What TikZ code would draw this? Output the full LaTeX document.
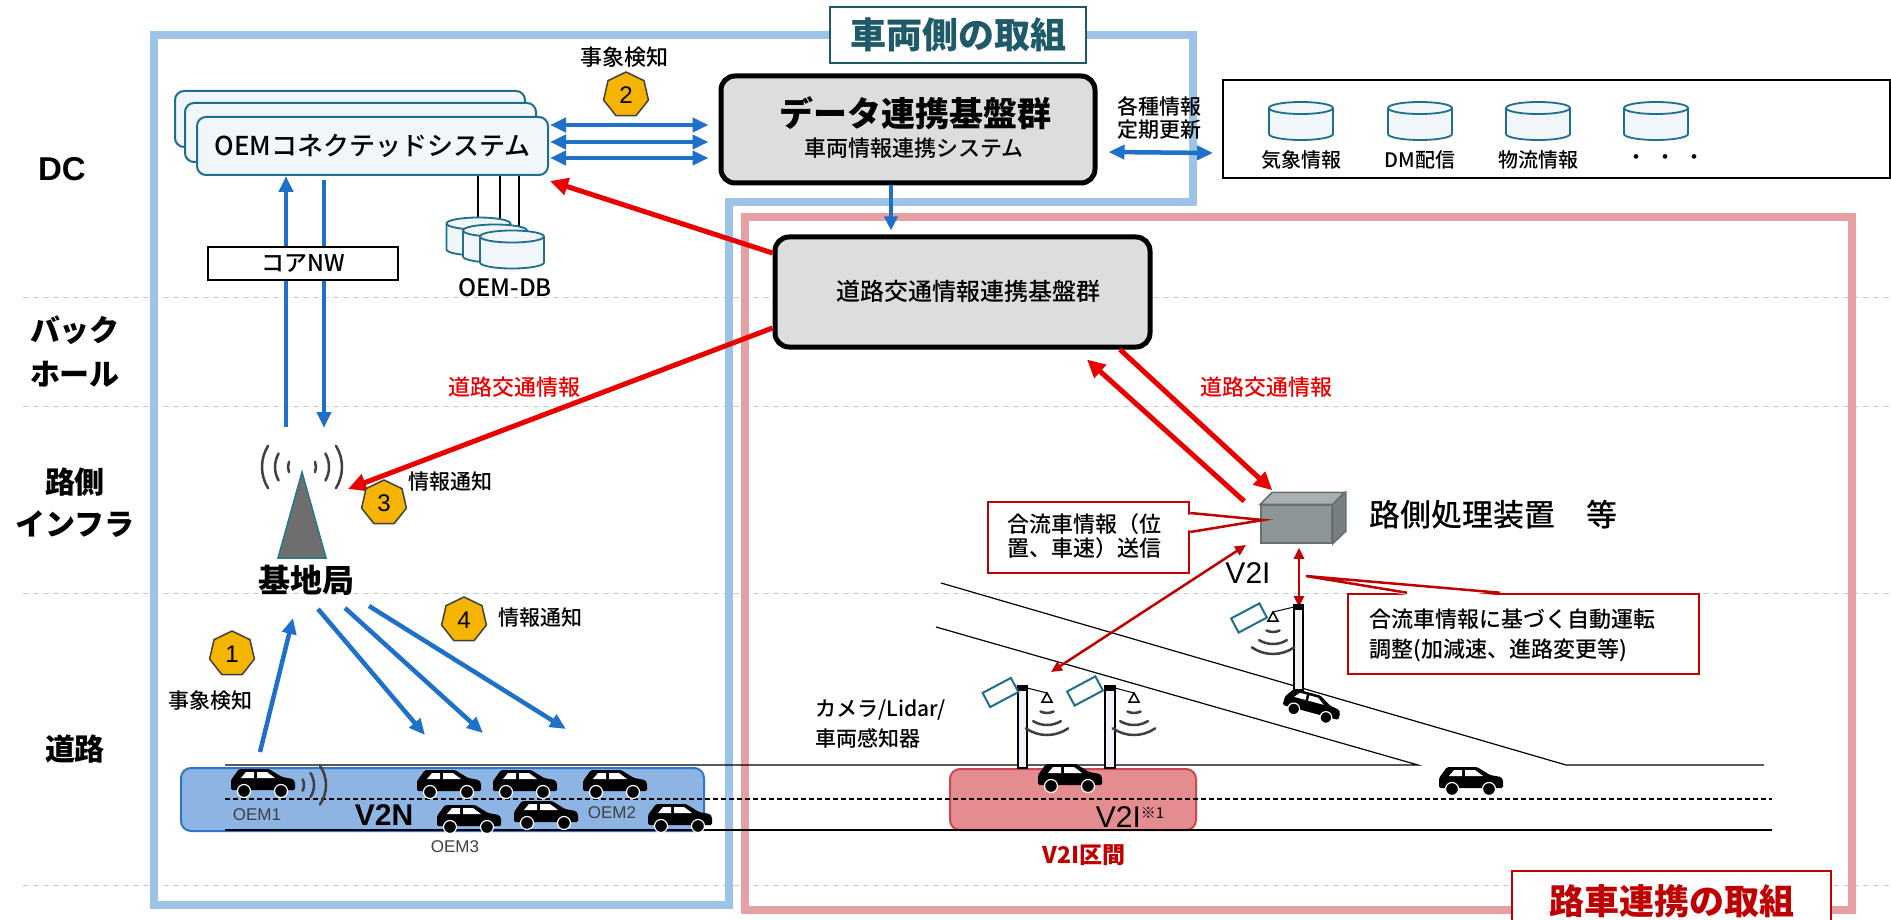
\documentclass[tikz,border=0pt]{standalone}
\usepackage{fontspec}
\setmainfont{Liberation Sans}
\newfontfamily\jp{Noto Sans CJK JP}
\newfontfamily\jpm{Noto Sans CJK JP Medium}
\usetikzlibrary{shapes.geometric,arrows.meta,calc}

\definecolor{frameblue}{RGB}{157,195,230}
\definecolor{framered}{RGB}{230,160,164}
\definecolor{arrowblue}{RGB}{30,112,200}
\definecolor{tealc}{RGB}{31,110,140}
\definecolor{tealfill}{RGB}{240,246,250}
\definecolor{titleteal}{RGB}{31,90,105}
\definecolor{boxgray}{RGB}{220,221,222}
\definecolor{darkred}{RGB}{192,0,0}
\definecolor{brightred}{RGB}{235,0,0}
\definecolor{badgefill}{RGB}{245,180,0}
\definecolor{v2nfill}{RGB}{141,180,226}
\definecolor{v2nline}{RGB}{46,117,200}
\definecolor{v2ifill}{RGB}{229,140,144}
\definecolor{v2iline}{RGB}{205,70,80}
\definecolor{sepgray}{RGB}{200,206,212}
\definecolor{wavegray}{RGB}{64,64,64}
\definecolor{bsgray}{RGB}{110,110,110}
\definecolor{bsteal}{RGB}{40,120,140}
\definecolor{rsufront}{RGB}{142,149,150}
\definecolor{rsutop}{RGB}{170,176,177}
\definecolor{rsuside}{RGB}{120,127,128}
\definecolor{rsuedge}{RGB}{105,112,113}
\definecolor{polefill}{RGB}{240,244,248}

\tikzset{
  jpf/.style={font=\jpm\fontsize{#1}{#1}\selectfont},
  jpb/.style={font=\jp\bfseries\fontsize{#1}{#1}\selectfont},
  sepline/.style={draw=sepgray, line width=1, dash pattern=on 6pt off 4pt},
  barrow/.style={draw=arrowblue, line width=4.5, -{Triangle[length=16pt,width=14pt]}},
  bdarrow/.style={draw=arrowblue, line width=4.5, {Triangle[length=16pt,width=14pt]}-{Triangle[length=16pt,width=14pt]}},
  rarrow/.style={draw=brightred, line width=5, -{Triangle[length=18pt,width=17pt]}},
  drarrow/.style={draw=darkred, line width=2.5, {Triangle[length=11pt,width=10pt]}-{Triangle[length=11pt,width=10pt]}},
  graybox/.style={draw=black, line width=5, rounded corners=14, fill=boxgray},
  oembox/.style={draw=tealc, line width=2, fill=tealfill, rounded corners=9},
  badge/.style={regular polygon, regular polygon sides=7, fill=badgefill, draw=black!75,
    line width=1.5, minimum size=46, inner sep=0, font=\fontsize{24}{24}\selectfont},
  calloutbox/.style={draw=darkred, line width=2.5, fill=white, inner sep=0},
  redlabel/.style={text=brightred, jpf=22},
  oemlabel/.style={text=black!75, font=\fontsize{17}{17}\selectfont},
  roadline/.style={draw=black, line width=1.2},
  camera/.style={draw=tealc, line width=2},
  wave/.style={draw=wavegray, line width=2.5, line cap=round},
  car/.pic={
    \fill[black, rounded corners=1.5] (0,23) -- (0,13) -- (8,2) -- (38,2) -- (51,10)
      -- (62,12) -- (64,15) -- (64,23) -- cycle;
    \fill[white] (10,11) -- (15,5) -- (23,5) -- (23,11) -- cycle;
    \fill[white] (26,11) -- (26,5) -- (36,5) -- (44,11) -- cycle;
    \filldraw[fill=black, draw=white, line width=1.2]
      (13,24) circle[radius=6.5] (50,24) circle[radius=6.5];
  },
  db/.pic={
    \filldraw[draw=tealc, fill=tealfill, line width=1.8]
      (-32,-13) -- (-32,13) arc[start angle=180, end angle=0, x radius=32, y radius=6]
      -- (32,-13) arc[start angle=0, end angle=-180, x radius=32, y radius=6] -- cycle;
    \draw[tealc, line width=1.8] (-32,-13) arc[start angle=180, end angle=0, x radius=32, y radius=6];
  },
  ant/.pic={
    \filldraw[draw=black, fill=white, line width=1.5] (0,0) -- (-5,9) -- (5,9) -- cycle;
    \draw[wave] (0,5) ++(64:15) arc[start angle=64, end angle=116, radius=15];
    \draw[wave] (0,5) ++(59:27) arc[start angle=59, end angle=121, radius=27];
    \draw[wave] (0,5) ++(55:37) arc[start angle=55, end angle=125, radius=37];
  },
}

\begin{document}
\begin{tikzpicture}[x=1pt,y=-1pt]
\useasboundingbox (0,0) rectangle (1891,920);
\fill[white] (0,0) rectangle (1891,920);

% layer separators
\foreach \yy in {297,406,593,885} { \draw[sepline] (23,\yy) -- (1891,\yy); }

% the two responsibility frames
\draw[frameblue, line width=8] (154,35) -- (1193,35) -- (1193,202) -- (729,202) -- (729,905) -- (154,905) -- cycle;
\draw[framered, line width=8] (745,217) rectangle (1852,910);

\node[draw=titleteal, line width=2.2, fill=white, minimum width=256, minimum height=56, inner sep=0,
  text=titleteal, jpb=36] (tveh) at (958,35) {車両側の取組};
\node[draw=darkred, line width=2.2, fill=white, minimum width=319, minimum height=60, inner sep=0,
  text=darkred, jpb=35, anchor=north] (troad) at (1671.5,870) {路車連携の取組};

% layer labels
\node[font=\bfseries\fontsize{33}{33}\selectfont] (ldc) at (62,169) {DC};
\node[font=\jp\bfseries\fontsize{30}{44}\selectfont, align=center] (lbh) at (75,352) {バック\\ホール};
\node[font=\jp\bfseries\fontsize{30}{42}\selectfont, align=center] (lri) at (75,503) {路側\\インフラ};
\node[jpb=30] (lrd) at (75,749) {道路};

% OEM connected systems
\draw[oembox] (175,91) rectangle (525,147);
\draw[oembox] (185,103) rectangle (536,162);
\node[oembox, minimum width=351, minimum height=58, jpf=26] (oem) at (372.5,146) {OEMコネクテッドシステム};

% data platform
\node[graybox, minimum width=374, minimum height=107] (data) at (908,129.5) {};
\node[jpb=34] (datat1) at (915,113) {データ連携基盤群};
\node[jpf=22] (datat2) at (914,148) {車両情報連携システム};

% road traffic platform
\node[graybox, minimum width=375, minimum height=110] (road) at (962.5,292) {};
\node[jpf=24] (roadt) at (968,291) {道路交通情報連携基盤群};

% external information
\node[draw=black, line width=2, minimum width=667, minimum height=98, anchor=north west] (info) at (1222,79) {};
\pic at (1301,121) {db};
\pic at (1420,121) {db};
\pic at (1538,121) {db};
\pic at (1656,121) {db};
\node[jpf=20] (iw) at (1301,160) {気象情報};
\node[jpf=20] (idm) at (1420,160) {DM配信};
\node[jpf=20] (ilog) at (1538,160) {物流情報};
\node[jpf=20] (idots) at (1665,160) {・\hspace{9pt}・\hspace{9pt}・};
\node[font=\jpm\fontsize{21}{23}\selectfont, align=center] (upd) at (1159,118) {各種情報\\定期更新};
\draw[bdarrow] ([xshift=11pt,yshift=-22.5pt]data.east) -- ([xshift=-9pt,yshift=-24pt]info.west);

% OEM <-> data platform
\draw[bdarrow] ([xshift=1pt,yshift=21pt]oem.east) -- ([xshift=-10pt,yshift=4.5pt]data.west);
\draw[bdarrow] ([xshift=1pt,yshift=4pt]oem.east) -- ([xshift=-10pt,yshift=-12.5pt]data.west);
\draw[bdarrow] ([xshift=1pt,yshift=-12pt]oem.east) -- ([xshift=-10pt,yshift=-28.5pt]data.west);
\node[jpf=22] (ev2) at (624,57) {事象検知};
\node[badge] (b2) at (626,95) {2};

% data platform -> road platform
\draw[draw=arrowblue, line width=4, -{Triangle[length=14pt,width=13pt]}, shorten >=4pt]
  ([xshift=-17pt]data.south) -- ([xshift=-17pt]data.south |- road.north);

% OEM databases
\coordinate (db1) at (478.5,236.5);
\coordinate (db2) at (495,243.5);
\coordinate (db3) at (512,249.5);
\coordinate (db1top) at (478,220);
\coordinate (db2top) at (500,226);
\coordinate (db3top) at (519,232);
\draw[line width=2] ([xshift=105.5pt]oem.south) -- (db1top);
\draw[line width=2] ([xshift=127.5pt]oem.south) -- (db2top);
\draw[line width=2] ([xshift=146.5pt]oem.south) -- (db3top);
\pic at (db1) {db};
\pic at (db2) {db};
\pic at (db3) {db};
\node[jpf=24] (oemdb) at (505,288) {OEM-DB};

% base station and core network
\coordinate (bsup) at (286,427);
\coordinate (bsdn) at (324,428);
\draw[barrow] (bsup) -- (bsup |- oem.south);
\draw[barrow, shorten <=4pt] (bsdn |- oem.south) -- (bsdn);
\node[draw=black, line width=2, fill=white, minimum width=190, minimum height=33, jpf=23] (core) at (303,263.5) {コアNW};

\draw[fill=bsgray, draw=bsteal, line width=1.5] (302,472) -- (326,558) -- (278,558) -- cycle;
\foreach \r/\a in {14/22, 27/30, 40/32} {
  \draw[wave] (302,467) ++(-\a:\r) arc[start angle=-\a, end angle=\a, radius=\r];
  \draw[wave] (302,467) ++(180-\a:\r) arc[start angle=180-\a, end angle=180+\a, radius=\r];
}
\node[jpb=32] (bsl) at (306,580) {基地局};

% road platform -> OEM and base station
\coordinate (bsr) at (348,489);
\draw[rarrow] ([yshift=39pt]road.west) -- ([xshift=1pt,yshift=-5pt]oem.south east);
\draw[rarrow] ([yshift=-36pt]road.west) -- (bsr);
\node[redlabel] (rl1) at (514,387) {道路交通情報};
\node[badge] (b3) at (384,503) {3};
\node[jpf=21] (n3) at (450,482) {情報通知};

% V2N band and road
\draw[fill=v2nfill, draw=v2nline, line width=2, rounded corners=10] (181,768) rectangle (704,831);
\draw[fill=v2ifill, draw=v2iline, line width=2, rounded corners=10] (950,769) rectangle (1196,830);
\draw[roadline] (941,583) -- (1566,765) -- (1764,765);
\draw[roadline] (936,627) -- (1418,765) -- (225,765);
\draw[roadline, dash pattern=on 5pt off 3pt] (225,799) -- (1772,799);
\draw[roadline] (225,830) -- (1772,830);

% vehicles in the V2N section
\pic at (231,767) {car};
\pic at (417,768) {car};
\pic at (493,768) {car};
\pic at (583,768) {car};
\pic at (437,803) {car};
\pic at (514,799) {car};
\pic at (648,802) {car};
\foreach \r/\a in {12/28, 22/33, 34/35} {
  \draw[wave] (292,785) ++(-\a:\r) arc[start angle=-\a, end angle=\a, radius=\r];
}
\node[oemlabel] (o1) at (257,815) {OEM1};
\node[oemlabel] (o2) at (612,813) {OEM2};
\node[oemlabel] (o3) at (455,847) {OEM3};
\node[font=\bfseries\fontsize{30}{30}\selectfont] (v2n) at (384,815) {V2N};

% uplink and downlinks of the base station
\coordinate (car1top) at (260,752);
\coordinate (bsfoot) at (293,618);
\draw[barrow] (car1top) -- (bsfoot);
\node[badge] (b1) at (232,654) {1};
\node[jpf=21] (ev1) at (210,701) {事象検知};
\coordinate (bso1) at (318,609);
\coordinate (bso2) at (345,608);
\coordinate (bso3) at (369,606);
\coordinate (v2na) at (425,735);
\coordinate (v2nb) at (483,733);
\coordinate (v2nc) at (566,729);
\draw[barrow] (bso1) -- (v2na);
\draw[barrow] (bso2) -- (v2nb);
\draw[barrow] (bso3) -- (v2nc);
\node[badge] (b4) at (464,620) {4};
\node[jpf=21] (n4) at (540,618) {情報通知};

% roadside unit
\node[draw=rsuedge, fill=rsufront, line width=1.5, minimum width=71, minimum height=38, inner sep=0] (rsu) at (1296.5,524) {};
\filldraw[draw=rsuedge, fill=rsutop, line width=1.5] (rsu.north west) -- ++(12,-12) -- ++(72,0) -- (rsu.north east) -- cycle;
\filldraw[draw=rsuedge, fill=rsuside, line width=1.5] (rsu.north east) -- ++(13,-12) -- ++(0,39) -- (rsu.south east) -- cycle;
\node[jpf=31, anchor=west] (rsul) at (1366,515) {路側処理装置　等};

% road platform <-> roadside unit
\draw[rarrow] ([xshift=157.5pt]road.south) -- ([xshift=12pt,yshift=14pt]rsu.north west);
\draw[rarrow] ([xshift=-16pt,yshift=3pt]rsu.north west) -- ([xshift=124.5pt,yshift=-10pt]road.south);
\node[redlabel] (rl2) at (1266,387) {道路交通情報};

% callouts
\node[calloutbox, minimum width=201, minimum height=71] (c1) at (1088.5,537.5) {};
\coordinate (c1tip) at ([xshift=3pt,yshift=4pt]rsu.west);
\fill[white] ([xshift=-2.5pt,yshift=23pt]c1.east) -- (c1tip) -- ([xshift=-2.5pt,yshift=7pt]c1.east) -- cycle;
\draw[darkred, line width=2.5] ([yshift=24.5pt]c1.east) -- (c1tip) -- ([yshift=5.5pt]c1.east);
\node[font=\jpm\fontsize{22}{24}\selectfont, align=left, anchor=west] (c1t) at (1004,536) {合流車情報（位\\置、車速）送信};

\node[calloutbox, minimum width=351, minimum height=80] (c2) at (1523.5,634) {};
\coordinate (c2tip) at (1306,576);
\fill[white] ([xshift=-115pt,yshift=-2.5pt]c2.north) -- (c2tip) -- ([xshift=-25pt,yshift=-2.5pt]c2.north) -- cycle;
\draw[darkred, line width=2.5] ([xshift=-116.5pt]c2.north) -- (c2tip) -- ([xshift=-23.5pt]c2.north);
\node[font=\jpm\fontsize{22}{30}\selectfont, align=left, anchor=west] (c2t) at (1366,635) {合流車情報に基づく自動運転\\調整(加減速、進路変更等)};

% V2I links
\node[font=\fontsize{30}{30}\selectfont] (v2il) at (1248,573) {V2I};
\coordinate (v2ia) at (1246,545);
\coordinate (v2ib) at (1051,672);
\draw[drarrow] (v2ia) -- (v2ib);
\coordinate (pole3top) at (1299,607);
\draw[drarrow] ([xshift=2.5pt,yshift=-4pt]rsu.south) -- (pole3top);

% poles with cameras and antennas
\filldraw[fill=polefill, draw=black, line width=1.5] (1018,688) rectangle (1027,768);
\filldraw[fill=polefill, draw=black, line width=1.5] (1105,688) rectangle (1115,768);
\filldraw[fill=polefill, draw=black, line width=1.5] (1294,607) rectangle (1303,690);
\fill (1017,685) rectangle (1028,691);
\fill (1104,685) rectangle (1116,691);
\fill (1293,604) rectangle (1304,610);
\draw[camera, rotate around={28:(1000.5,692.5)}] (984.5,684.5) rectangle (1016.5,700.5);
\draw[camera, rotate around={28:(1085,691)}] (1069,683) rectangle (1101,699);
\draw[camera, rotate around={28:(1249,618)}] (1233,610) rectangle (1265,626);
\draw[line width=1] (1027,688) -- (1047,693);
\draw[line width=1] (1115,688) -- (1134,693);
\draw[line width=1] (1294,607) -- (1273,612);
\pic at (1047,693) {ant};
\pic at (1134,693) {ant};
\pic at (1273,612) {ant};

% vehicles in the V2I section and on the ramp
\pic at (1038,762) {car};
\pic at (1439,765) {car};
\pic[scale=0.9, rotate=-15] at (1288,685) {car};

\node[font=\jpm\fontsize{21}{30}\selectfont, align=left, anchor=west] (camlbl) at (812,724) {カメラ/Lidar/\\車両感知器};
\node[font=\fontsize{30}{30}\selectfont] (v2isec) at (1130,817) {V2I{\jp\fontsize{15}{15}\selectfont\raisebox{9pt}{※1}}};
\node[text=darkred, jpb=23] (v2ilbl) at (1084,855) {V2I区間};

\end{tikzpicture}
\end{document}
